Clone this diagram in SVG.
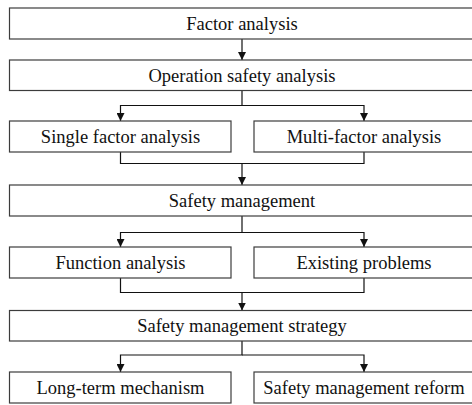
<svg xmlns="http://www.w3.org/2000/svg" width="472" height="405" viewBox="0 0 472 405">
  <style>
    .box { fill: #ffffff; stroke: #3c3c3c; stroke-width: 1.2; }
    .lbl { font-size: 18.5px; fill: #111111; text-anchor: middle; }
    .wire { fill: none; stroke: #111111; stroke-width: 1.2; }
  </style>
  <defs>
    <marker id="arrow" viewBox="0 0 8 8" refX="8" refY="4" markerWidth="8" markerHeight="8" orient="auto" markerUnits="userSpaceOnUse">
      <path d="M0,0 L8,4 L0,8 z" fill="#111111"/>
    </marker>
  </defs>
  <rect width="472" height="405" fill="#ffffff"/>

  <!-- connectors -->
  <g id="connectors">
    <path class="wire" d="M242,39 V60" marker-end="url(#arrow)"/>
    <path class="wire" d="M242,90.5 V105.5 H120.5 V121" marker-end="url(#arrow)"/>
    <path class="wire" d="M242,105.5 H364 V121" marker-end="url(#arrow)"/>
    <path class="wire" d="M120.5,152 V163.5 H364 V152"/>
    <path class="wire" d="M242,163.5 V185" marker-end="url(#arrow)"/>
    <path class="wire" d="M242,216 V232.5 H120.5 V247" marker-end="url(#arrow)"/>
    <path class="wire" d="M242,232.5 H364 V247" marker-end="url(#arrow)"/>
    <path class="wire" d="M120.5,278 V292.5 H364 V278"/>
    <path class="wire" d="M242,292.5 V310.5" marker-end="url(#arrow)"/>
    <path class="wire" d="M242,341 V355 H120.5 V372" marker-end="url(#arrow)"/>
    <path class="wire" d="M242,355 H364 V372" marker-end="url(#arrow)"/>
  </g>

  <!-- nodes -->
  <g id="nodes" font-family="'Liberation Serif', 'DejaVu Serif', serif">
  <g id="factor-analysis">
    <rect class="box" x="9.5" y="8" width="464.5" height="31"/>
    <text class="lbl" x="242" y="29.5">Factor analysis</text>
  </g>
  <g id="operation-safety-analysis">
    <rect class="box" x="9.5" y="60" width="464.5" height="30.5"/>
    <text class="lbl" x="242" y="81.5">Operation safety analysis</text>
  </g>
  <g id="single-factor-analysis">
    <rect class="box" x="9.5" y="121" width="221.5" height="31"/>
    <text class="lbl" x="120.5" y="142.5">Single factor analysis</text>
  </g>
  <g id="multi-factor-analysis">
    <rect class="box" x="254" y="121" width="220" height="31"/>
    <text class="lbl" x="364" y="142.5">Multi-factor analysis</text>
  </g>
  <g id="safety-management">
    <rect class="box" x="9.5" y="185" width="464.5" height="31"/>
    <text class="lbl" x="242" y="206.5">Safety management</text>
  </g>
  <g id="function-analysis">
    <rect class="box" x="9.5" y="247" width="221.5" height="31"/>
    <text class="lbl" x="120.5" y="268.5">Function analysis</text>
  </g>
  <g id="existing-problems">
    <rect class="box" x="254" y="247" width="220" height="31"/>
    <text class="lbl" x="364" y="268.5">Existing problems</text>
  </g>
  <g id="safety-management-strategy">
    <rect class="box" x="9.5" y="310.5" width="464.5" height="30.5"/>
    <text class="lbl" x="242" y="332">Safety management strategy</text>
  </g>
  <g id="long-term-mechanism">
    <rect class="box" x="9.5" y="372" width="221.5" height="31"/>
    <text class="lbl" x="120.5" y="393.5">Long-term mechanism</text>
  </g>
  <g id="safety-management-reform">
    <rect class="box" x="254" y="372" width="220" height="31"/>
    <text class="lbl" x="364" y="393.5">Safety management reform</text>
  </g>
  </g>
</svg>
